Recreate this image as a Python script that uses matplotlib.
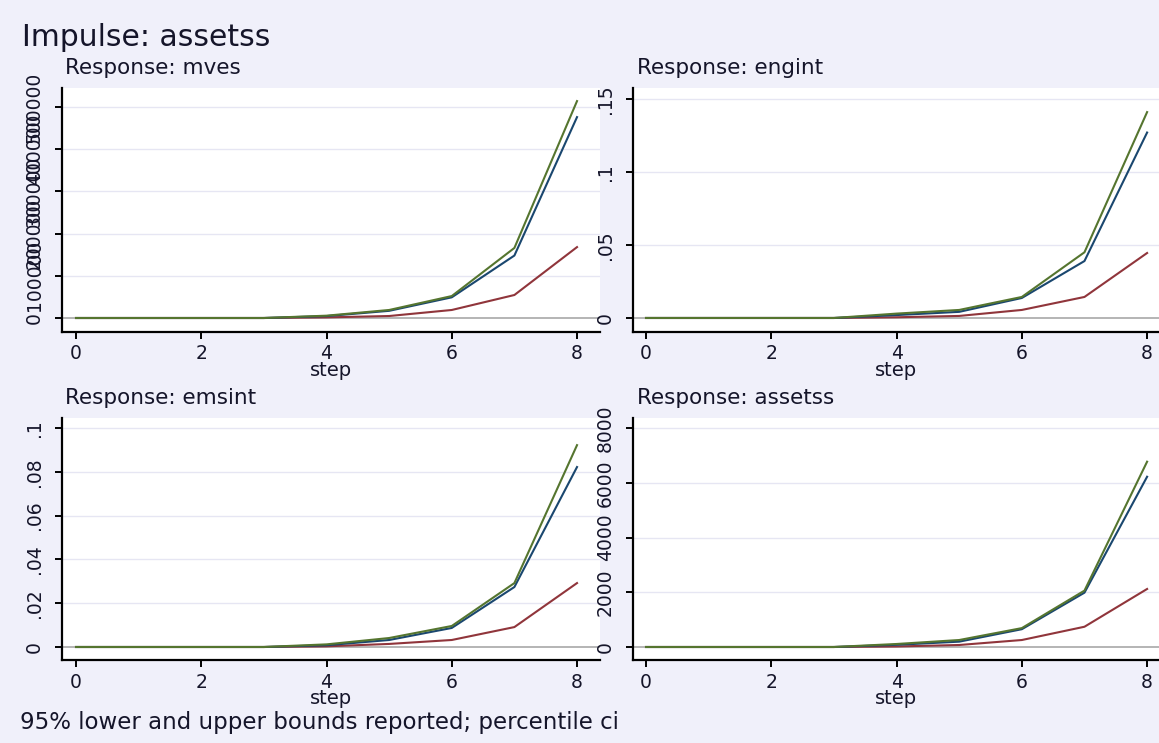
import matplotlib
matplotlib.use("Agg")
import matplotlib.pyplot as plt

plt.rcParams['font.family'] = ['DejaVu Sans']

steps = [0, 1, 2, 3, 4, 5, 6, 7, 8]

# Response: mves
mves_upper = [0, 0, 0, 0, 5500, 19000, 52000, 166000, 514000]
mves_irf = [0, 0, 0, 0, 4500, 17000, 49000, 148000, 476000]
mves_lower = [0, 0, 0, 0, 1500, 4700, 19000, 54500, 168000]

# Response: engint
engint_upper = [0, 0, 0, 0, 0.0030, 0.0055, 0.0144, 0.045, 0.141]
engint_irf = [0, 0, 0, 0, 0.0020, 0.0042, 0.0137, 0.039, 0.127]
engint_lower = [0, 0, 0, 0, 0.0005, 0.0014, 0.0055, 0.0144, 0.0445]

# Response: emsint
emsint_upper = [0, 0, 0, 0, 0.0012, 0.0041, 0.0096, 0.0292, 0.0922]
emsint_irf = [0, 0, 0, 0, 0.0008, 0.0032, 0.0087, 0.0274, 0.0822]
emsint_lower = [0, 0, 0, 0, 0.0003, 0.0014, 0.0032, 0.0091, 0.0292]

# Response: assetss
assetss_upper = [0, 0, 0, 0, 110, 255, 690, 2060, 6770]
assetss_irf = [0, 0, 0, 0, 80, 195, 650, 1985, 6220]
assetss_lower = [0, 0, 0, 0, 20, 73, 255, 740, 2120]

x_ticks = [0, 2, 4, 6, 8]
mves_ticks = [0, 100000, 200000, 300000, 400000, 500000]
mves_labels = ["0", "100000", "200000", "300000", "400000", "500000"]
engint_ticks = [0, 0.05, 0.10, 0.15]
engint_labels = ["0", ".05", ".1", ".15"]
emsint_ticks = [0, 0.02, 0.04, 0.06, 0.08, 0.10]
emsint_labels = ["0", ".02", ".04", ".06", ".08", ".1"]
assetss_ticks = [0, 2000, 4000, 6000, 8000]
assetss_labels = ["0", "2000", "4000", "6000", "8000"]

W, H = 1159, 743
BG = '#f0f0fa'
TXT = '#15152a'
GREEN = '#55752f'
BLUE = '#1a476f'
RED = '#90353b'

fig = plt.figure(figsize=(W / 100, H / 100), dpi=100, facecolor=BG)


def px_rect(x0, y0, x1, y1):
    return [x0 / W, 1 - y1 / H, (x1 - x0) / W, (y1 - y0) / H]


panels = [
    ("Response: mves", mves_upper, mves_irf, mves_lower, mves_ticks, mves_labels,
     (62, 88, 600, 332), (-33175, 545000), (-0.224, 8.367), 65, 68),
    ("Response: engint", engint_upper, engint_irf, engint_lower, engint_ticks, engint_labels,
     (633, 88, 1159, 332), (-0.0096, 0.1575), (-0.208, 8.19), 637, 68),
    ("Response: emsint", emsint_upper, emsint_irf, emsint_lower, emsint_ticks, emsint_labels,
     (62, 418, 600, 660), (-0.00594, 0.1046), (-0.224, 8.367), 65, 398),
    ("Response: assetss", assetss_upper, assetss_irf, assetss_lower, assetss_ticks, assetss_labels,
     (633, 418, 1159, 660), (-475, 8366), (-0.208, 8.19), 637, 398),
]

for title, up, irf, lo, yt, yl, rect, ylim, xlim, tx, ty in panels:
    ax = fig.add_axes(px_rect(*rect))
    ax.set_facecolor('white')
    for s in ['top', 'right']:
        ax.spines[s].set_visible(False)
    for s in ['left', 'bottom']:
        ax.spines[s].set_linewidth(1.6)
        ax.spines[s].set_color('black')
    ax.set_xlim(*xlim)
    ax.set_ylim(*ylim)
    ax.set_yticks(yt)
    ax.set_yticklabels(yl, rotation=90, va='center')
    ax.set_xticks(x_ticks)
    ax.set_xticklabels([str(t) for t in x_ticks])
    ax.tick_params(axis='both', direction='out', length=5, width=1.4, color='black',
                   labelsize=13.5, labelcolor=TXT)
    ax.tick_params(axis='y', pad=8)
    ax.tick_params(axis='x', pad=4)
    for t in yt[1:]:
        ax.axhline(t, color='#e6e6f3', lw=1.0, zorder=0)
    ax.axhline(0, color='#a8a8a8', lw=1.2, zorder=1)
    ax.plot(steps, lo, color=RED, lw=1.5, zorder=2)
    ax.plot(steps, irf, color=BLUE, lw=1.5, zorder=3)
    ax.plot(steps, up, color=GREEN, lw=1.5, zorder=4)
    ax.set_xlabel('step', fontsize=14, color=TXT, labelpad=-1.5)
    fig.text(tx / W, 1 - ty / H, title, fontsize=15.5, color=TXT, ha='left', va='center')

fig.text(22 / W, 1 - 38 / H, "Impulse: assetss", fontsize=21.5, color=TXT, ha='left', va='center')
fig.text(20 / W, 1 - 722 / H, "95% lower and upper bounds reported; percentile ci",
         fontsize=16.5, color=TXT, ha='left', va='center')

fig.savefig("out.png", dpi=100, facecolor=BG)
